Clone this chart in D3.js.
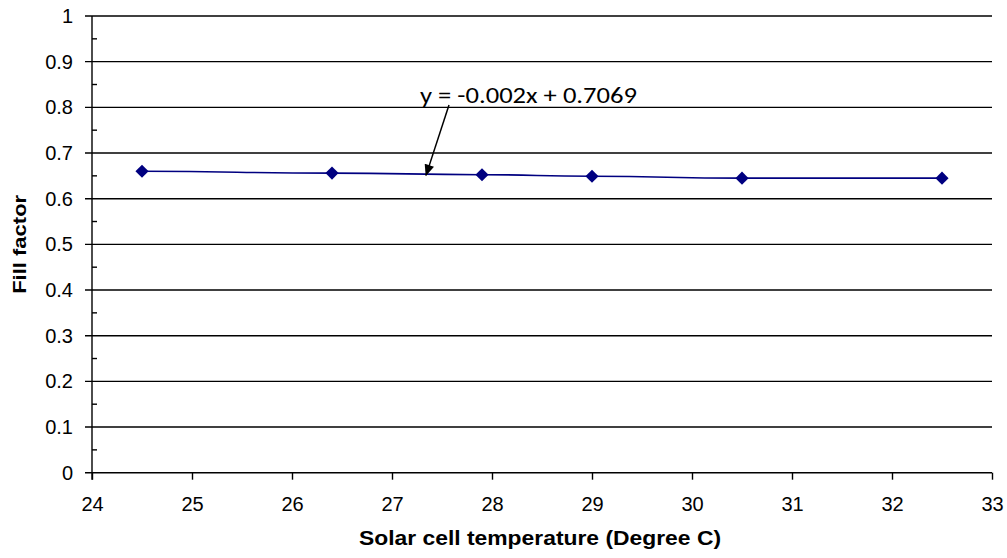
<!DOCTYPE html>
<html>
<head>
<meta charset="utf-8">
<script src="https://cdn.jsdelivr.net/npm/d3@7"></script>
<style>
  body { margin: 0; background: #fff; }
  svg { display: block; }
</style>
</head>
<body>
<script>
// data
var temperature = [24.5, 26.4, 27.9, 29.0, 30.5, 32.5];
var fillFactor = [0.660, 0.656, 0.6525, 0.649, 0.645, 0.645];
var xTicks = [24, 25, 26, 27, 28, 29, 30, 31, 32, 33];
var yTicks = [0, 0.1, 0.2, 0.3, 0.4, 0.5, 0.6, 0.7, 0.8, 0.9, 1];
var yMinorTicks = [0.05, 0.15, 0.25, 0.35, 0.45, 0.55, 0.65, 0.75, 0.85, 0.95];
var equationText = "y = -0.002x + 0.7069";
// arrow of the equation label, in data units: [from, to]
var arrowFrom = [27.57, 0.805];
var arrowTo = [27.34, 0.651];

var width = 1007;
var height = 558;
var plotLeft = 92, plotRight = 992, plotTop = 16, plotBottom = 472.7;

var svg = d3.select("body").append("svg")
  .attr("width", width)
  .attr("height", height);

var x = d3.scaleLinear().domain([24, 33]).range([plotLeft, plotRight]);
var y = d3.scaleLinear().domain([0, 1]).range([plotBottom, plotTop]);

var defs = svg.append("defs");
defs.append("marker")
  .attr("id", "arrowhead")
  .attr("viewBox", "0 0 12 10")
  .attr("refX", 11).attr("refY", 5)
  .attr("markerWidth", 8).attr("markerHeight", 6.5)
  .attr("markerUnits", "strokeWidth")
  .attr("orient", "auto")
  .append("path")
  .attr("d", "M0,0 L12,5 L0,10 z")
  .attr("fill", "#000");

// gridlines
svg.append("g").selectAll("line").data(yTicks).enter().append("line")
  .attr("x1", plotLeft - 7).attr("x2", plotRight)
  .attr("y1", function(d) { return y(d); })
  .attr("y2", function(d) { return y(d); })
  .attr("stroke", "#000").attr("stroke-width", 1.4);

// y minor ticks (inside)
svg.append("g").selectAll("line").data(yMinorTicks).enter().append("line")
  .attr("x1", plotLeft).attr("x2", plotLeft + 5)
  .attr("y1", function(d) { return y(d); })
  .attr("y2", function(d) { return y(d); })
  .attr("stroke", "#000").attr("stroke-width", 1.4);

// y axis
var yAxis = d3.axisLeft(y).tickValues(yTicks).tickSize(0).tickPadding(19)
  .tickFormat(function(d) { return d3.format("")(d); });
var gy = svg.append("g").attr("transform", "translate(" + plotLeft + ",0)").call(yAxis);
gy.select(".domain").remove();
gy.selectAll("text").style("font-family", "Liberation Sans, Arial, sans-serif")
  .style("font-size", "20px").attr("fill", "#000");
svg.append("line")
  .attr("x1", plotLeft).attr("x2", plotLeft)
  .attr("y1", plotTop).attr("y2", plotBottom + 7)
  .attr("stroke", "#000").attr("stroke-width", 1.4);

// x axis
var xAxis = d3.axisBottom(x).tickValues(xTicks).tickSize(7).tickPadding(17)
  .tickFormat(d3.format("d"));
var gx = svg.append("g").attr("transform", "translate(0," + plotBottom + ")").call(xAxis);
gx.select(".domain").remove();
gx.selectAll("line").attr("stroke", "#000").attr("stroke-width", 1.4);
gx.selectAll("text").style("font-family", "Liberation Sans, Arial, sans-serif")
  .style("font-size", "20px").attr("fill", "#000");

// series line (smoothed)
var pts = temperature.map(function(t, i) { return [t, fillFactor[i]]; });
var line = d3.line()
  .x(function(d) { return x(d[0]); })
  .y(function(d) { return y(d[1]); })
  .curve(d3.curveBumpX);
svg.append("path").datum(pts)
  .attr("d", line)
  .attr("fill", "none")
  .attr("stroke", "#000080")
  .attr("stroke-width", 1.6);

// markers
svg.append("g").selectAll("path").data(pts).enter().append("path")
  .attr("d", d3.symbol().type(d3.symbolDiamond2).size(110))
  .attr("transform", function(d) { return "translate(" + x(d[0]) + "," + y(d[1]) + ")"; })
  .attr("fill", "#000080");

// equation label and arrow
svg.append("text")
  .attr("x", 420).attr("y", 103)
  .attr("textLength", 217).attr("lengthAdjust", "spacingAndGlyphs")
  .style("font-family", "Carlito, Lato, 'Open Sans', sans-serif")
  .style("font-size", "22px")
  .attr("fill", "#000")
  .text(equationText);
svg.append("line")
  .attr("x1", x(arrowFrom[0])).attr("y1", y(arrowFrom[1]))
  .attr("x2", x(arrowTo[0])).attr("y2", y(arrowTo[1]))
  .attr("stroke", "#000").attr("stroke-width", 1.5)
  .attr("marker-end", "url(#arrowhead)");

// axis titles
svg.append("text")
  .attr("x", (plotLeft + plotRight) / 2 - 2).attr("y", 545)
  .attr("text-anchor", "middle")
  .attr("textLength", 362).attr("lengthAdjust", "spacingAndGlyphs")
  .style("font-family", "Liberation Sans, Arial, sans-serif")
  .style("font-size", "20px").style("font-weight", "bold")
  .text("Solar cell temperature (Degree C)");
svg.append("text")
  .attr("transform", "translate(25.5," + (plotTop + plotBottom) / 2 + ") rotate(-90)")
  .attr("text-anchor", "middle")
  .attr("textLength", 99).attr("lengthAdjust", "spacingAndGlyphs")
  .style("font-family", "Liberation Sans, Arial, sans-serif")
  .style("font-size", "19px").style("font-weight", "bold")
  .text("Fill factor");
</script>
</body>
</html>
